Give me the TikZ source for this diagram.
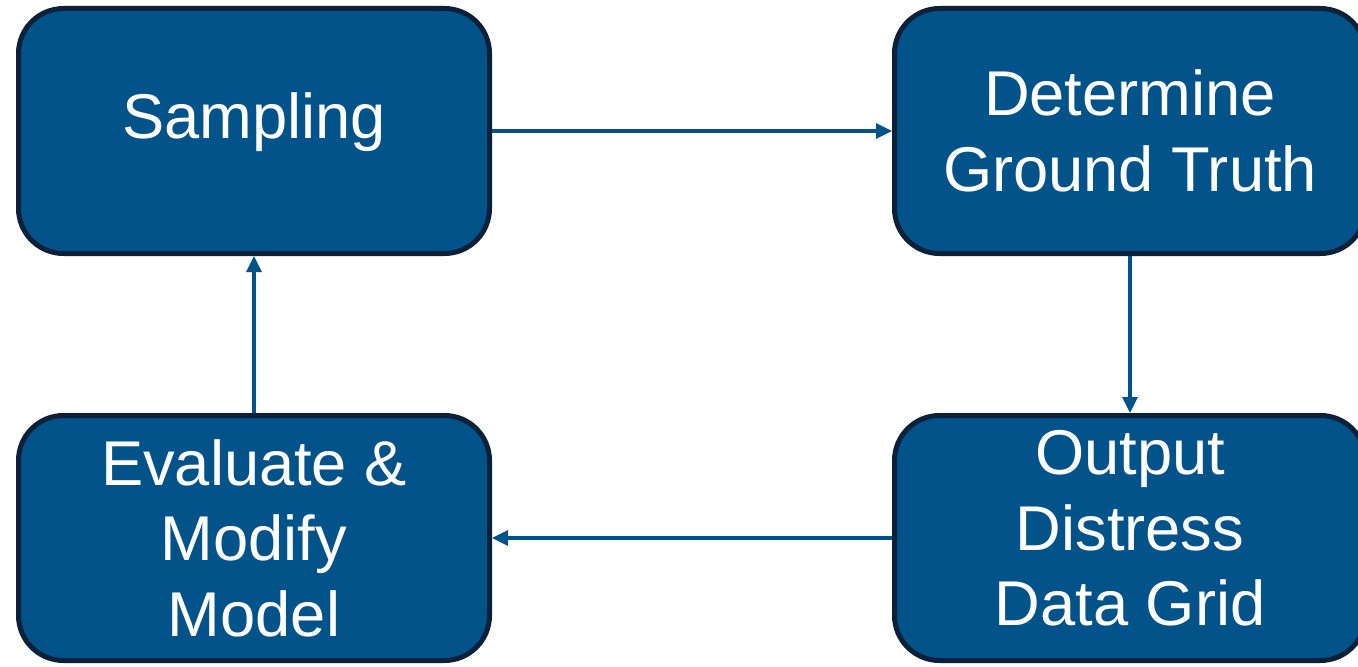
\documentclass[tikz,border=0pt]{standalone}
\usepackage{fontspec}
\setmainfont{Liberation Sans}
\usepackage{xcolor}
\usetikzlibrary{arrows.meta}
\definecolor{stepblue}{HTML}{02538A}
\definecolor{stepedge}{HTML}{0C2139}

\begin{document}
\begin{tikzpicture}[scale=1]

    \tikzstyle{stage}=[draw=stepedge,fill=stepblue,line width=0.1cm,rounded corners=0.9cm,
        minimum width=9.42cm,minimum height=4.9cm,text=white,align=center,
        font=\fontsize{36}{43}\selectfont]
    \tikzstyle{flow}=[-{Triangle[length=0.32cm,width=0.3cm]},line width=0.065cm,color=stepblue]
    \useasboundingbox (0,0) rectangle (27.16,-13.34);
    \clip (0,0) rectangle (27.16,-13.34);

    % the four stages
    \node[style=stage,text depth=0.6cm] (sampling) at (5.08,-2.62) {Sampling};
    \node[style=stage] (truth) at (22.6,-2.62) {Determine\\Ground Truth};
    \node[style=stage,text depth=0.4cm] (grid) at (22.6,-10.76) {Output\\Distress\\Data Grid};
    \node[style=stage] (evaluate) at (5.08,-10.76) {Evaluate \&\\Modify\\Model};

    % the loop between them
    \draw[style=flow] (sampling) -- (truth);
    \draw[style=flow] (truth) -- (grid);
    \draw[style=flow] (grid) -- (evaluate);
    \draw[style=flow] (evaluate) -- (sampling);

\end{tikzpicture}
\end{document}
